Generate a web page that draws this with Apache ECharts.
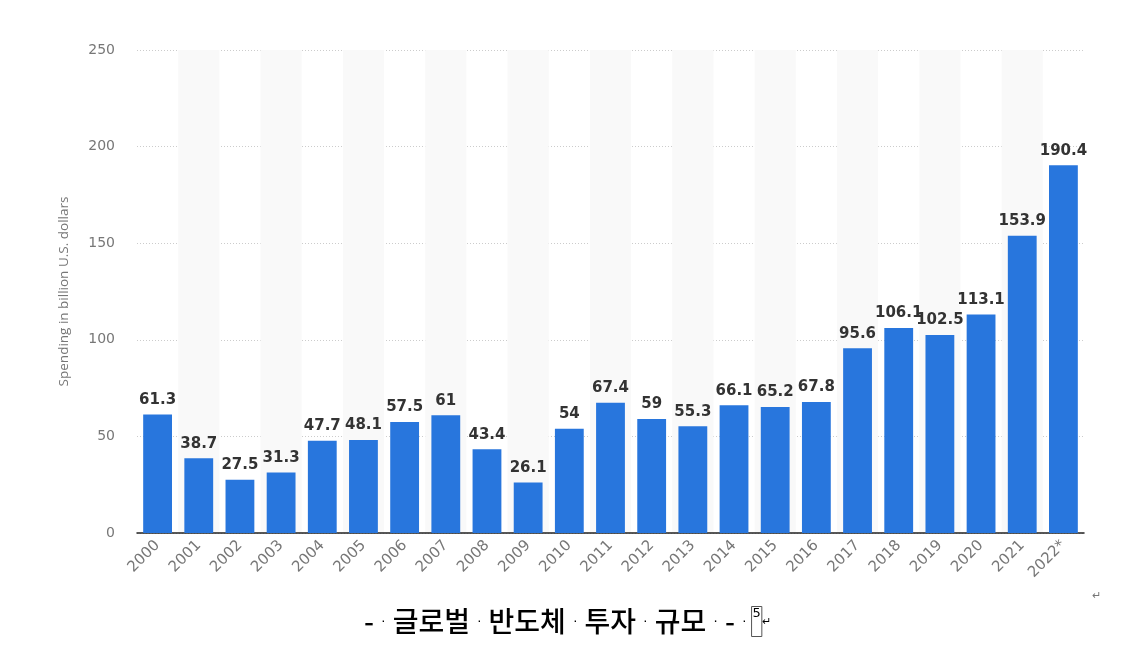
<!DOCTYPE html>
<html>
<head>
<meta charset="utf-8">
<script src="https://cdn.jsdelivr.net/npm/echarts@6/dist/echarts.min.js"></script>
<style>
    html, body { margin: 0; padding: 0; background: #fff; }
    #chart { width: 1131px; height: 647px; }
</style>
</head>
<body>
<div id="chart"></div>
<script>
// 연도별 반도체 투자 (billion USD)
var years = ['2000', '2001', '2002', '2003', '2004', '2005', '2006', '2007', '2008', '2009', '2010',
    '2011', '2012', '2013', '2014', '2015', '2016', '2017', '2018', '2019', '2020', '2021', '2022*'];
var spending = [61.3, 38.7, 27.5, 31.3, 47.7, 48.1, 57.5, 61, 43.4, 26.1, 54,
    67.4, 59, 55.3, 66.1, 65.2, 67.8, 95.6, 106.1, 102.5, 113.1, 153.9, 190.4];
var yTicks = [0, 50, 100, 150, 200, 250];

var chart = echarts.init(document.getElementById('chart'));
var option = {
    backgroundColor: '#fff',
    animation: false,
    grid: {
        left: 137,
        right: 47,
        top: 50,
        bottom: 114
    },
    xAxis: {
        type: 'category',
        data: years,
        axisTick: { show: false },
        axisLine: { lineStyle: { color: '#222', width: 1.5 } },
        axisLabel: {
            rotate: 45,
            color: '#777',
            fontSize: 15,
            fontFamily: 'DejaVu Sans',
            margin: 10
        },
        splitArea: {
            show: true,
            areaStyle: { color: ['rgba(255,255,255,0)', '#f9f9f9'] }
        }
    },
    yAxis: {
        type: 'value',
        min: yTicks[0],
        max: yTicks[yTicks.length - 1],
        interval: 50,
        name: 'Spending in billion U.S. dollars',
        nameLocation: 'middle',
        nameGap: 66,
        nameTextStyle: { color: '#777', fontSize: 13.5, fontFamily: 'Open Sans' },
        axisLine: { show: false },
        axisTick: { show: false },
        axisLabel: { color: '#777', fontSize: 14, fontFamily: 'DejaVu Sans', margin: 22 },
        splitLine: { lineStyle: { color: '#ccc', type: [1, 2] } }
    },
    series: [
        {
            type: 'bar',
            data: spending,
            barWidth: '70%',
            itemStyle: { color: '#2876dd' },
            label: {
                show: true,
                position: 'top',
                distance: 7,
                color: '#333',
                fontSize: 15,
                fontWeight: 'bold',
                fontFamily: 'DejaVu Sans'
            }
        }
    ],
    graphic: [
        {
            type: 'text',
            left: 364,
            top: 606,
            style: {
                text: '{t|-}{d|·}{t|글로벌}{d|·}{t|반도체}{d|·}{t|투자}{d|·}{t|규모}{d|·}{t|-}{d|·}{n|5}{r|↵}',
                rich: {
                    t: { fontSize: 28, fontFamily: 'Noto Sans CJK KR', fontWeight: 500, color: '#000', padding: [0, 2] },
                    d: { fontSize: 14, color: '#999', padding: [0, 5] },
                    n: {
                        fontSize: 13, color: '#333', fontFamily: 'DejaVu Sans',
                        borderColor: '#555', borderWidth: 1, borderType: 'dotted',
                        padding: [1, 1, 16, 1], verticalAlign: 'top'
                    },
                    r: { fontSize: 11, color: '#888' }
                }
            }
        },
        {
            type: 'text',
            left: 1092,
            top: 590,
            style: { text: '↵', fontSize: 11, fill: '#777' }
        }
    ]
};
chart.setOption(option);
</script>
</body>
</html>
